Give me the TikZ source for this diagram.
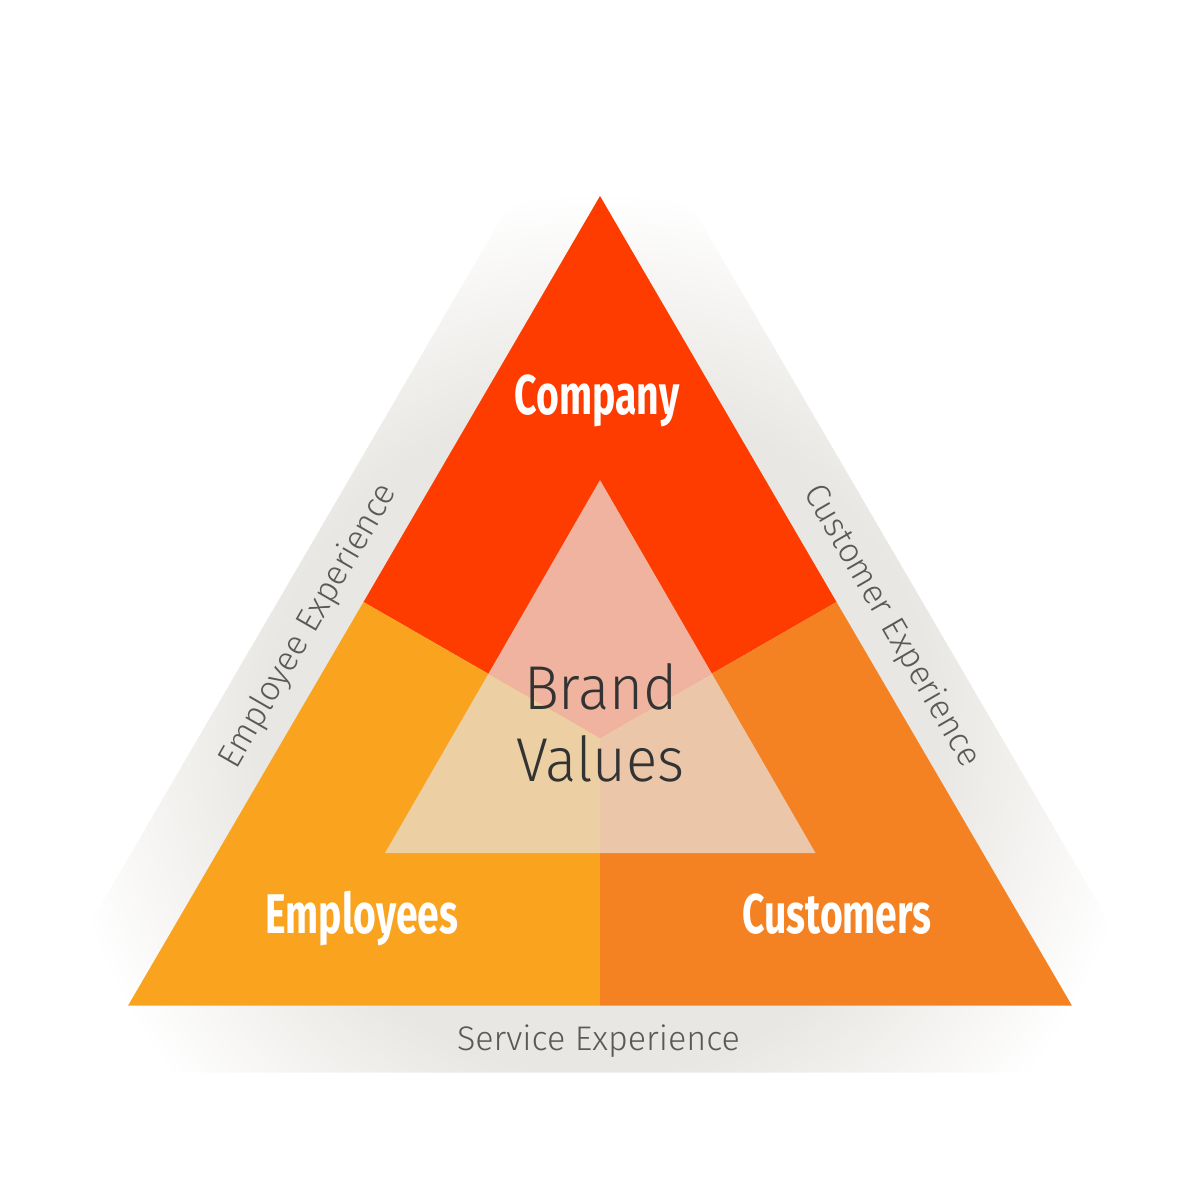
\documentclass[tikz,border=0pt]{standalone}
\usepackage{fontspec}
\setmainfont{Fira Sans}
\newfontfamily\sectorfont[FakeStretch=0.7]{Fira Sans Bold}
\newfontfamily\bandfont{Fira Sans Light}
\newfontfamily\corefont[FakeStretch=0.94]{Fira Sans Light}

\definecolor{companyred}{HTML}{FF3C00}
\definecolor{employeeyellow}{HTML}{F9A31E}
\definecolor{customerorange}{HTML}{F58222}
\definecolor{coretop}{HTML}{F0B39F}
\definecolor{coreleft}{HTML}{EDCFA4}
\definecolor{coreright}{HTML}{EBC6A8}
\definecolor{bandgrey}{HTML}{E9E7E3}
\definecolor{bandtext}{HTML}{595959}
\definecolor{coretext}{HTML}{333333}

% grey in the middle, white towards the corners (25bp = path border)
\pgfdeclareradialshading{bandfade}{\pgfpoint{0bp}{0bp}}{color(0bp)=(bandgrey); color(12bp)=(bandgrey); color(19.5bp)=(white); color(50bp)=(white)}

\begin{document}
\begin{tikzpicture}[x=0.01cm, y=-0.01cm,
    sectorlabel/.style={text=white, font=\sectorfont\fontsize{15.9}{18}\selectfont, anchor=base, inner sep=0pt},
    bandlabel/.style={text=bandtext, font=\bandfont\fontsize{9.7}{11}\selectfont, anchor=base, inner sep=0pt},
    corelabel/.style={text=coretext, font=\corefont\fontsize{17.6}{20}\selectfont, anchor=base, inner sep=0pt}]
    \useasboundingbox (0,0) rectangle (1200,1200);

    % big triangle, its side midpoints and the centre
    \coordinate (top) at (600,196);
    \coordinate (bl) at (128,1005.7);
    \coordinate (br) at (1072,1005.7);
    \coordinate (midL) at (363.5,602);
    \coordinate (midR) at (836.5,602);
    \coordinate (midB) at (600,1005.7);
    \coordinate (centre) at (600,738);

    % grey band round the triangle
    \begin{scope}
        \clip (600,49) -- (3,1072.7) -- (1197,1072.7) -- cycle;
        \shade[shading=bandfade] (centre) circle[radius=700];
    \end{scope}

    % the three sectors
    \fill[companyred] (top) -- (midR) -- (centre) -- (midL) -- cycle;
    \fill[employeeyellow] (midL) -- (centre) -- (midB) -- (bl) -- cycle;
    \fill[customerorange] (midR) -- (br) -- (midB) -- (centre) -- cycle;

    % inner triangle
    \coordinate (itop) at (600,480);
    \coordinate (ibl) at (385,853);
    \coordinate (ibr) at (815.5,853);
    \coordinate (iL) at (intersection of midL--centre and itop--ibl);
    \coordinate (iR) at (intersection of midR--centre and itop--ibr);
    \coordinate (iB) at (600,853);
    \fill[coretop] (itop) -- (iR) -- (centre) -- (iL) -- cycle;
    \fill[coreleft] (iL) -- (centre) -- (iB) -- (ibl) -- cycle;
    \fill[coreright] (iR) -- (ibr) -- (iB) -- (centre) -- cycle;

    \node[sectorlabel] (company) at (597,414) {Company};
    \node[sectorlabel] (employees) at (362,933) {Employees};
    \node[sectorlabel] (customers) at (837,933) {Customers};

    \node[corelabel] (brand) at (601,709) {Brand};
    \node[corelabel] (values) at (600.5,781.7) {Values};

    \node[bandlabel, rotate=60] (employeeexp) at (316.5,631) {Employee Experience};
    \node[bandlabel, rotate=-60] (customerexp) at (883.5,631) {Customer Experience};
    \node[bandlabel] (serviceexp) at (598.5,1050.7) {Service Experience};
\end{tikzpicture}
\end{document}
